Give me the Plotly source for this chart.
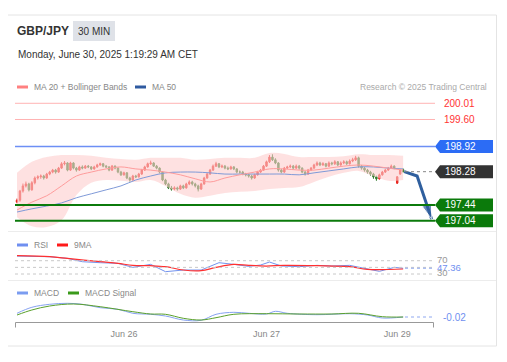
import plotly.graph_objects as go

W, H = 507, 362

# ---------------- data ----------------
tick_index = [36, 84, 128]
tick_labels = ["Jun 26", "Jun 27", "Jun 29"]

opens = [197.51,197.56,197.79,197.92,197.97,197.82,198.00,198.12,198.15,198.17,
         198.12,198.22,198.27,198.32,198.27,198.37,198.48,198.50,198.32,198.50,
         198.37,198.32,198.40,198.37,198.42,198.40,198.35,198.40,198.45,198.48,
         198.42,198.40,198.32,198.42,198.37,198.27,198.20,198.25,198.12,198.07,
         198.17,198.15,198.22,198.32,198.40,198.48,198.50,198.42,198.37,198.27,
         198.07,197.97,197.87,197.84,197.87,197.84,197.92,197.87,197.97,198.02,
         197.97,197.92,197.84,197.97,198.12,198.22,198.32,198.42,198.48,198.40,
         198.42,198.37,198.35,198.40,198.35,198.27,198.27,198.22,198.20,198.17,
         198.12,198.20,198.27,198.32,198.42,198.53,198.65,198.58,198.50,198.32,
         198.27,198.37,198.40,198.42,198.37,198.42,198.37,198.27,198.22,198.32,
         198.37,198.45,198.50,198.45,198.48,198.42,198.50,198.48,198.53,198.45,
         198.50,198.53,198.48,198.55,198.58,198.63,198.42,198.37,198.32,198.27,
         198.22,198.15,198.10,198.20,198.27,198.32,198.37,198.42,197.99,198.22,
         198.33]
closes = [197.56,197.79,197.92,197.97,197.82,198.00,198.12,198.15,198.17,198.12,
          198.22,198.27,198.32,198.27,198.37,198.48,198.50,198.32,198.50,198.37,
          198.32,198.40,198.37,198.42,198.40,198.35,198.40,198.45,198.48,198.42,
          198.40,198.32,198.42,198.37,198.27,198.20,198.25,198.12,198.07,198.17,
          198.15,198.22,198.32,198.40,198.48,198.50,198.42,198.37,198.27,198.07,
          197.97,197.87,197.84,197.87,197.84,197.92,197.87,197.97,198.02,197.97,
          197.92,197.84,197.97,198.12,198.22,198.32,198.42,198.48,198.40,198.42,
          198.37,198.35,198.40,198.35,198.27,198.27,198.22,198.20,198.17,198.12,
          198.20,198.27,198.32,198.42,198.53,198.65,198.58,198.50,198.32,198.27,
          198.37,198.40,198.42,198.37,198.42,198.37,198.27,198.22,198.32,198.37,
          198.45,198.50,198.45,198.48,198.42,198.50,198.48,198.53,198.45,198.50,
          198.53,198.48,198.55,198.58,198.63,198.42,198.37,198.32,198.27,198.22,
          198.15,198.10,198.20,198.27,198.32,198.37,198.42,198.37,198.15,198.32,
          198.28]
highs = [197.60,197.82,197.98,198.03,198.00,198.04,198.16,198.19,198.21,198.20,
         198.25,198.30,198.35,198.35,198.40,198.52,198.55,198.52,198.53,198.52,
         198.40,198.43,198.44,198.45,198.45,198.42,198.43,198.48,198.51,198.50,
         198.45,198.42,198.45,198.44,198.39,198.30,198.28,198.27,198.15,198.20,
         198.20,198.25,198.35,198.43,198.51,198.56,198.52,198.45,198.39,198.29,
         198.10,198.00,197.92,197.91,197.90,197.95,197.95,198.00,198.06,198.05,
         198.00,197.95,198.00,198.15,198.25,198.35,198.46,198.53,198.50,198.46,
         198.45,198.41,198.43,198.42,198.37,198.31,198.30,198.25,198.23,198.20,
         198.23,198.30,198.35,198.45,198.56,198.70,198.72,198.62,198.52,198.35,
         198.40,198.43,198.46,198.45,198.46,198.45,198.39,198.30,198.35,198.40,
         198.48,198.54,198.53,198.52,198.50,198.54,198.53,198.57,198.55,198.54,
         198.57,198.56,198.59,198.63,198.68,198.66,198.45,198.40,198.35,198.30,
         198.25,198.18,198.23,198.30,198.35,198.40,198.46,198.44,198.17,198.35,
         198.36]
lows = [197.48,197.52,197.75,197.88,197.78,197.80,197.96,198.08,198.10,198.08,
        198.10,198.19,198.24,198.23,198.25,198.35,198.44,198.29,198.30,198.34,
        198.28,198.30,198.34,198.35,198.37,198.32,198.33,198.38,198.43,198.39,
        198.37,198.29,198.30,198.34,198.24,198.17,198.18,198.09,198.03,198.05,
        198.12,198.13,198.20,198.30,198.38,198.45,198.40,198.34,198.24,198.04,
        197.94,197.84,197.80,197.81,197.80,197.82,197.84,197.85,197.94,197.93,
        197.88,197.78,197.82,197.95,198.10,198.20,198.30,198.40,198.37,198.37,
        198.34,198.32,198.33,198.32,198.24,198.23,198.19,198.16,198.13,198.08,
        198.10,198.18,198.25,198.30,198.40,198.50,198.55,198.47,198.28,198.24,
        198.25,198.35,198.37,198.34,198.35,198.33,198.24,198.18,198.20,198.30,
        198.35,198.42,198.42,198.43,198.39,198.40,198.44,198.45,198.42,198.43,
        198.47,198.45,198.46,198.52,198.55,198.38,198.33,198.28,198.23,198.18,
        198.10,198.05,198.08,198.18,198.25,198.30,198.35,198.34,197.97,198.20,
        198.26]
candle_x = list(range(len(closes)))

ind_x = [0, 5, 10, 15, 20, 25, 30, 35, 40, 45, 50, 55, 60, 65, 70, 75, 80,
         85, 90, 95, 100, 105, 110, 115, 120, 125, 130]
ma20 = [197.31, 197.51, 197.67, 197.92, 198.17, 198.27, 198.35, 198.40, 198.35,
        198.32, 198.27, 198.20, 198.10, 198.02, 198.12, 198.20, 198.27, 198.35,
        198.35, 198.32, 198.32, 198.37, 198.42, 198.45, 198.42, 198.37, 198.32]
ma50 = [197.26, 197.34, 197.41, 197.49, 197.62, 197.72, 197.82, 197.92, 198.07,
        198.17, 198.25, 198.27, 198.27, 198.25, 198.22, 198.22, 198.22, 198.22,
        198.22, 198.20, 198.25, 198.30, 198.35, 198.40, 198.40, 198.37, 198.35]
bb_upper = [198.25, 198.53, 198.65, 198.70, 198.70, 198.68, 198.63, 198.60, 198.58,
            198.63, 198.63, 198.63, 198.58, 198.60, 198.63, 198.63, 198.63, 198.75,
            198.73, 198.65, 198.65, 198.65, 198.67, 198.72, 198.70, 198.70, 198.68]
bb_lower = [197.13, 196.90, 196.88, 197.05, 197.69, 198.00, 198.07, 198.05, 198.02,
            198.07, 197.92, 197.72, 197.62, 197.67, 197.74, 197.77, 197.79, 197.84,
            197.87, 197.89, 198.02, 198.15, 198.25, 198.30, 198.17, 198.05, 198.07]

resistances = [200.01, 199.60]
pivot = 198.92
last_price = 198.28
supports = [197.44, 197.04]
forecast_x = [130.4, 134.7, 139.6]
forecast_y = [198.28, 198.17, 197.08]

rsi_x = [0, 5, 11, 17, 22, 28, 34, 39, 45, 50, 56, 62, 66, 68, 73, 78, 82, 85,
         89, 95, 101, 106, 112, 118, 122, 127, 130]
rsi_v = [84, 84, 82, 77, 67, 64, 62, 50, 59, 37, 42, 42, 57, 64, 59, 53, 57, 66,
         54, 52, 56, 54, 56, 44, 38, 50, 47.36]
rsi_ma_x = [0, 11, 17, 28, 34, 39, 45, 50, 56, 62, 67, 73, 78, 84, 90, 101, 112, 118, 130]
rsi_ma_v = [85, 82, 77, 67, 62, 56, 55, 52, 42, 40, 50, 59, 56, 54, 56, 55, 52, 44, 45]
rsi_levels = [70, 50, 30]
rsi_last = 47.36

macd_x = [0, 5, 11, 17, 22, 28, 34, 39, 45, 50, 56, 62, 67, 73, 78, 84, 87, 91,
          101, 112, 118, 123, 130]
macd_v = [0.02, 0.08, 0.11, 0.12, 0.11, 0.076, 0.06, 0.02, 0.01, -0.007, -0.047,
          -0.05, 0.01, 0.03, 0.02, 0.013, 0.04, 0.02, 0.006, 0.016, 0.003, -0.027, -0.017]
sig_x = [0, 5, 11, 19, 28, 39, 45, 50, 56, 62, 67, 73, 84, 95, 106, 115, 123, 130]
sig_v = [0.003, 0.053, 0.093, 0.113, 0.086, 0.036, 0.013, 0.01, -0.03, -0.047,
         -0.024, 0.01, 0.016, 0.013, 0.013, 0.02, -0.014, -0.017]
macd_last = -0.017
macd_last_label = "-0.02"

# ---------------- helpers ----------------
FONT = "Liberation Sans, Arial, sans-serif"
OFF = 8  # page body margin

def px(x):
    return (x - OFF) / W

def py(y):
    return 1 - (y - OFF) / H

XDOM = [px(15), px(497)]
XRANGE = [-0.673, 161.6]
LINE_END = (435 - 15) / (497 - 15)
EXT_START = (405 - 15) / (497 - 15)
LABEL_X = 141.4

fig = go.Figure()

# Bollinger band
fig.add_trace(go.Scatter(x=ind_x, y=bb_upper, mode="lines", line=dict(width=0, shape="spline"),
                         hoverinfo="skip", xaxis="x", yaxis="y"))
fig.add_trace(go.Scatter(x=ind_x, y=bb_lower, mode="lines", line=dict(width=0, shape="spline"),
                         fill="tonexty", fillcolor="rgba(253,205,205,0.6)",
                         hoverinfo="skip", xaxis="x", yaxis="y"))
fig.add_trace(go.Scatter(x=ind_x, y=ma50, mode="lines",
                         line=dict(color="#7f9ad8", width=1, shape="spline"), xaxis="x", yaxis="y"))
fig.add_trace(go.Scatter(x=ind_x, y=ma20, mode="lines",
                         line=dict(color="#ff9c9c", width=1, shape="spline"), xaxis="x", yaxis="y"))
fig.add_trace(go.Candlestick(
    x=candle_x, open=opens, high=highs, low=lows, close=closes,
    increasing=dict(line=dict(color="#e8261f", width=1), fillcolor="#e8261f"),
    decreasing=dict(line=dict(color="#2f7a2a", width=1), fillcolor="#2f7a2a"),
    whiskerwidth=0, xaxis="x", yaxis="y"))
fig.add_trace(go.Scatter(
    x=forecast_x, y=forecast_y, mode="lines+markers",
    line=dict(color="#2f5f9e", width=3),
    marker=dict(symbol="arrow", angleref="previous", size=[0, 0, 16], color="#2f5f9e"),
    xaxis="x", yaxis="y"))

# RSI
fig.add_trace(go.Scatter(x=rsi_x, y=rsi_v, mode="lines",
                         line=dict(color="#7393ee", width=1), xaxis="x2", yaxis="y2"))
fig.add_trace(go.Scatter(x=rsi_ma_x, y=rsi_ma_v, mode="lines",
                         line=dict(color="#ff3030", width=1.2, shape="spline"), xaxis="x2", yaxis="y2"))
fig.add_trace(go.Scatter(
    x=[LABEL_X] * 3, y=[70, rsi_last, 30], mode="text",
    text=["70", f"{rsi_last:.2f}", "30"], textposition="middle right",
    textfont=dict(family=FONT, size=9.5, color=["#999999", "#6f8ff0", "#999999"]),
    cliponaxis=True, xaxis="x2", yaxis="y2"))

# MACD
fig.add_trace(go.Scatter(x=macd_x, y=macd_v, mode="lines",
                         line=dict(color="#86a2f0", width=1, shape="spline"), xaxis="x3", yaxis="y3"))
fig.add_trace(go.Scatter(x=sig_x, y=sig_v, mode="lines",
                         line=dict(color="#5aa02c", width=1, shape="spline"), xaxis="x3", yaxis="y3"))

shapes = []
annotations = []

# card
shapes.append(dict(type="rect", xref="paper", yref="paper", x0=px(6.5), x1=px(496.5),
                   y0=py(346), y1=py(15), line=dict(color="#e4e4e4", width=1), layer="below"))
for yy in (231.5, 280.5):
    shapes.append(dict(type="line", xref="paper", yref="paper", x0=px(7), x1=px(496),
                       y0=py(yy), y1=py(yy), line=dict(color="#ececec", width=1)))

# header
shapes.append(dict(type="rect", xref="paper", yref="paper", x0=px(73), x1=px(115),
                   y0=py(41), y1=py(21), fillcolor="#dfe2e8", line=dict(width=0)))
annotations.append(dict(text="<b>GBP/JPY</b>", x=px(15), y=py(31), xref="paper", yref="paper",
                        xanchor="left", yanchor="middle", showarrow=False,
                        font=dict(family=FONT, size=12, color="#333333")))
annotations.append(dict(text="30 MIN", x=px(94), y=py(31), xref="paper", yref="paper",
                        xanchor="center", yanchor="middle", showarrow=False,
                        font=dict(family=FONT, size=10, color="#333333")))
annotations.append(dict(text="Monday, June 30, 2025 1:19:29 AM CET", x=px(16), y=py(55),
                        xref="paper", yref="paper", xanchor="left", yanchor="middle",
                        showarrow=False, font=dict(family=FONT, size=10, color="#333333")))
annotations.append(dict(text="Research © 2025 Trading Central", x=px(489), y=py(87),
                        xref="paper", yref="paper", xanchor="right", yanchor="middle",
                        showarrow=False, font=dict(family=FONT, size=8.5, color="#aaaaaa")))

def legend_item(x, y, color, label):
    shapes.append(dict(type="rect", xref="paper", yref="paper", x0=px(x), x1=px(x + 11),
                       y0=py(y + 1.5), y1=py(y - 1.5), fillcolor=color, line=dict(width=0)))
    annotations.append(dict(text=label, x=px(x + 15), y=py(y), xref="paper", yref="paper",
                            xanchor="left", yanchor="middle", showarrow=False,
                            font=dict(family=FONT, size=8.5, color="#888888")))

legend_item(17, 87, "#ff8080", "MA 20 + Bollinger Bands")
legend_item(135, 87, "#2f5aa0", "MA 50")
legend_item(17, 245, "#6f8ff0", "RSI")
legend_item(57, 245, "#ff1a1a", "9MA")
legend_item(17, 293, "#7b9cf0", "MACD")
legend_item(68, 293, "#3a9a1a", "MACD Signal")

# level lines
def hline(level, color, width, dash="solid", x0=0, x1=LINE_END, yref="y"):
    shapes.append(dict(type="line", xref="x domain", yref=yref, x0=x0, x1=x1,
                       y0=level, y1=level, line=dict(color=color, width=width, dash=dash)))

for r in resistances:
    hline(r, "#ffb3b3", 1)
    annotations.append(dict(text=f"{r:.2f}", x=px(442), y=r, xref="paper", yref="y",
                            xanchor="left", yanchor="middle", showarrow=False,
                            font=dict(family=FONT, size=10, color="#ff3333")))
hline(pivot, "#6d8ff5", 1.5)
hline(last_price, "#888888", 1, dash="dot", x0=EXT_START)
for s in supports:
    hline(s, "#0b7a0b", 2)

def label_box(level, color):
    shapes.append(dict(type="path", xref="paper", yref="y", xsizemode="pixel", ysizemode="pixel",
                       xanchor=px(435), yanchor=level,
                       path="M 0,0 L 5,6.5 L 58,6.5 L 58,-6.5 L 5,-6.5 Z",
                       fillcolor=color, line=dict(width=0)))
    annotations.append(dict(text=f"{level:.2f}", x=px(443), y=level, xref="paper", yref="y",
                            xanchor="left", yanchor="middle", showarrow=False,
                            font=dict(family=FONT, size=10, color="white")))

label_box(pivot, "#2c6cf5")
label_box(last_price, "#333333")
for s in supports:
    label_box(s, "#0b7a0b")

# RSI levels
for lv in rsi_levels:
    hline(lv, "#c8c8c8", 1, dash="dot", yref="y2")
shapes.append(dict(type="line", xref="x domain", yref="y2", x0=EXT_START, x1=LINE_END,
                   y0=rsi_last, y1=rsi_last, line=dict(color="#8fa8f0", width=1, dash="dot")))

# MACD extension + label + axis
shapes.append(dict(type="line", xref="x domain", yref="y3", x0=EXT_START, x1=LINE_END,
                   y0=macd_last, y1=macd_last, line=dict(color="#8fa8f0", width=1, dash="dot")))
annotations.append(dict(text=macd_last_label, x=px(441), y=macd_last, xref="paper", yref="y3",
                        xanchor="left", yanchor="middle", showarrow=False,
                        font=dict(family=FONT, size=10, color="#6f8ff0")))
shapes.append(dict(type="path", xref="paper", yref="paper",
                   path=f"M {px(15.5)},{py(327.5)} L {px(15.5)},{py(322.5)} L {px(433.5)},{py(322.5)} L {px(433.5)},{py(327.5)}",
                   line=dict(color="#999999", width=1)))

main_dom = [py(229), py(97)]
rsi_dom = [py(277), py(252)]
macd_dom = [py(322.7), py(297)]

hidden = dict(visible=False, showgrid=False, zeroline=False)
fig.update_layout(
    width=W, height=H, margin=dict(l=0, r=0, t=0, b=0),
    paper_bgcolor="white", plot_bgcolor="rgba(0,0,0,0)",
    showlegend=False, shapes=shapes, annotations=annotations,
    xaxis=dict(domain=XDOM, range=XRANGE, anchor="y", rangeslider=dict(visible=False), **hidden),
    yaxis=dict(domain=main_dom, range=[196.83, 200.169], anchor="x", **hidden),
    xaxis2=dict(domain=XDOM, range=XRANGE, anchor="y2", **hidden),
    yaxis2=dict(domain=rsi_dom, range=[21, 96.2], anchor="x2", **hidden),
    xaxis3=dict(domain=XDOM, range=XRANGE, anchor="y3", showgrid=False, zeroline=False,
                showline=False, ticks="", tickvals=tick_index, ticktext=tick_labels,
                tickfont=dict(family=FONT, size=9, color="#888888"), ticklabelstandoff=4),
    yaxis3=dict(domain=macd_dom, range=[-0.074, 0.183], anchor="x3", **hidden),
    font=dict(family=FONT),
)

fig.write_html("out.html")
